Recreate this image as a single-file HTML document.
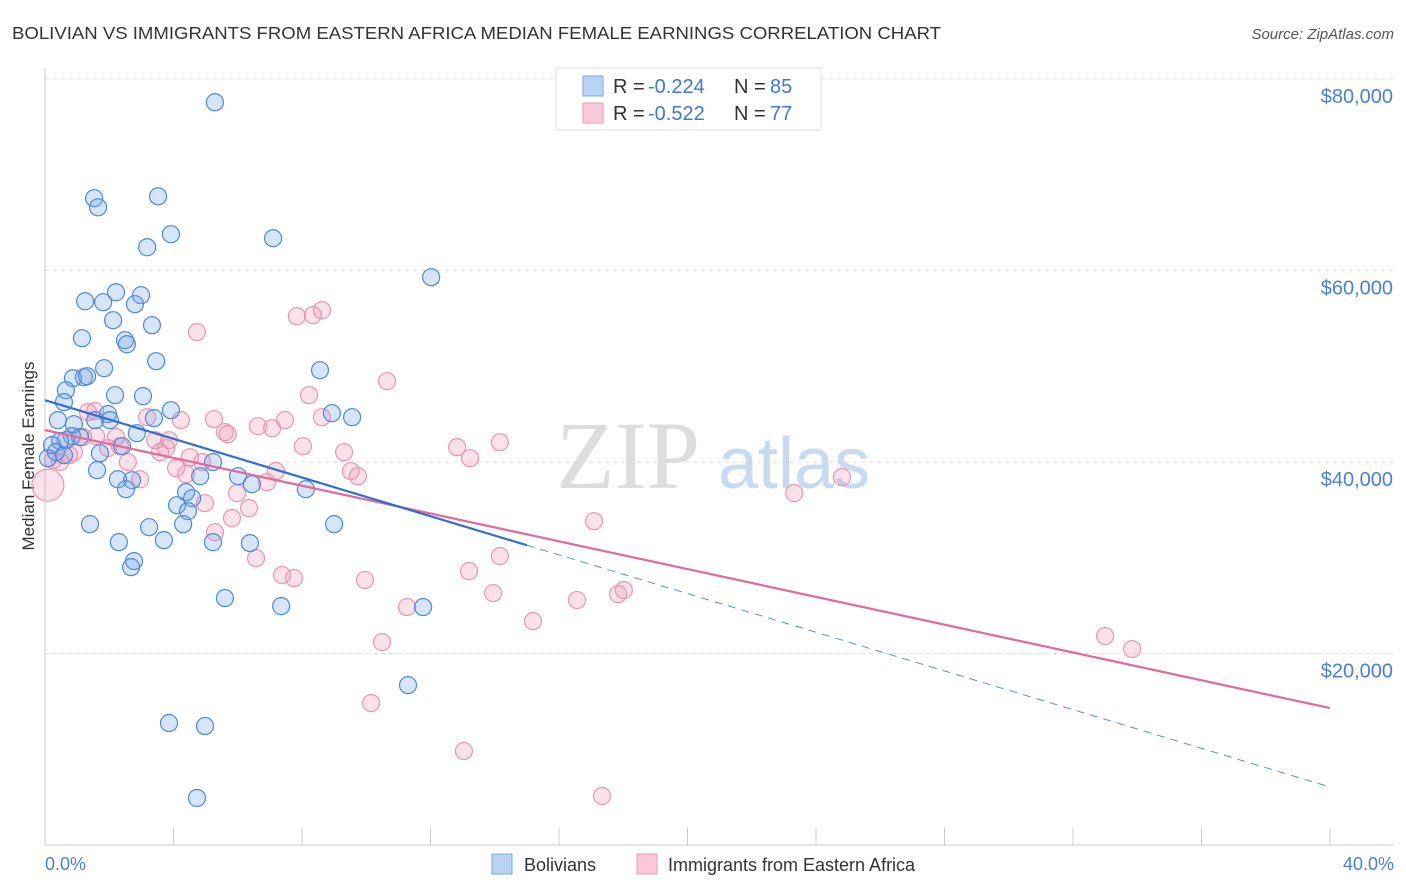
<!DOCTYPE html>
<html><head><meta charset="utf-8">
<style>
body{margin:0;background:#fff;font-family:"Liberation Sans",sans-serif;}
svg{display:block}
</style></head>
<body>
<svg id="chart" width="1406" height="892">
<text x="12" y="39" font-size="17.5" fill="#333" textLength="929" lengthAdjust="spacingAndGlyphs">BOLIVIAN VS IMMIGRANTS FROM EASTERN AFRICA MEDIAN FEMALE EARNINGS CORRELATION CHART</text>
<text x="1394" y="39" font-size="15" fill="#555" font-style="italic" text-anchor="end">Source: ZipAtlas.com</text>
<g id="grid"></g>
<text x="700" y="488" font-size="96" fill="#ddd" font-family="Liberation Serif,serif" text-anchor="end">ZIP</text>
<text x="718" y="488" font-size="72" fill="#c8daf0" text-anchor="start">atlas</text>
<line x1="45" y1="68" x2="45" y2="845" stroke="#ccc"/>
<line x1="45" y1="845" x2="1394" y2="845" stroke="#ccc"/>
<text transform="translate(34,456) rotate(-90)" font-size="17" fill="#333" text-anchor="middle">Median Female Earnings</text>
<text x="45" y="870" font-size="18" fill="#4a7fd4">0.0%</text>
<text x="1394" y="870" font-size="18" fill="#4a7fd4" text-anchor="end">40.0%</text>
<g id="ticks"></g>
<g id="pink"></g>
<g id="blue"></g>
<g id="trends"></g>
<g>
<rect x="556" y="68" width="265" height="62" fill="#fff" stroke="#ddd"/>
<rect x="583" y="76" width="20" height="20" fill="#b9d3f5" stroke="#7aa6e6"/>
<rect x="583" y="103" width="20" height="20" fill="#f9c9d8" stroke="#ec9ab5"/>
<text x="613" y="93" font-size="20" fill="#333">R =</text>
<text x="648" y="93" font-size="20" fill="#3f78d4">-0.224</text>
<text x="734" y="93" font-size="20" fill="#333">N =</text>
<text x="770" y="93" font-size="20" fill="#3f78d4">85</text>
<text x="613" y="120" font-size="20" fill="#333">R =</text>
<text x="648" y="120" font-size="20" fill="#3f78d4">-0.522</text>
<text x="734" y="120" font-size="20" fill="#333">N =</text>
<text x="770" y="120" font-size="20" fill="#3f78d4">77</text>
</g>
<g>
<rect x="492" y="854" width="20" height="20" fill="#b9d3f5" stroke="#7aa6e6"/>
<text x="524" y="871" font-size="18" fill="#333">Bolivians</text>
<rect x="637" y="854" width="20" height="20" fill="#f9c9d8" stroke="#ec9ab5"/>
<text x="668" y="871" font-size="18" fill="#333">Immigrants from Eastern Africa</text>
</g>
</svg>
<script>
const yTicks=[20000,40000,60000,80000];
const yTickLabels=["$20,000","$40,000","$60,000","$80,000"];
const xTicks=[0,4,8,12,16,20,24,28,32,36,40];
const blueX=[5.29,3.52,1.53,1.65,3.92,3.18,7.10,12.02,1.25,1.81,2.21,2.99,2.80,2.12,3.33,1.15,2.49,2.55,3.46,1.84,8.56,0.87,1.21,1.31,0.65,2.18,3.05,0.59,3.92,8.93,9.56,1.96,2.02,3.39,0.40,1.56,0.90,2.86,0.84,1.09,0.65,0.47,0.22,2.40,0.34,0.59,0.09,1.71,5.23,1.62,6.01,4.83,2.71,2.27,6.44,2.52,8.12,4.39,4.58,4.11,4.45,1.40,3.24,4.30,9.00,2.30,3.70,5.23,6.38,2.77,2.68,5.60,7.35,11.77,11.30,3.86,4.98,4.73];
const blueY=[77570,67750,67550,66600,63790,62430,63370,59300,56790,56690,57730,57420,56480,54810,54290,52930,52720,52300,50530,49800,49590,48750,48860,48960,47500,46980,46880,46250,45410,45100,44680,45000,44370,44580,44370,44370,43950,43010,42700,42600,42280,42180,41760,41650,41030,40710,40400,40920,39990,39150,38520,38520,38100,38200,37680,37160,37160,36850,36220,35490,34870,33510,33190,33510,33510,31630,31840,31630,31530,29650,29020,25790,24950,24850,16700,12740,12420,4910];
const pinkX=[4.73,7.84,8.34,8.62,10.65,8.22,1.56,1.34,3.18,4.23,5.26,8.62,7.47,6.63,7.07,5.60,5.69,1.59,2.21,3.43,3.86,14.16,8.03,12.83,1.96,9.31,3.77,3.58,0.90,0.75,13.23,4.51,4.89,2.58,4.08,9.52,7.19,9.74,4.39,24.81,2.96,6.91,23.32,5.98,4.98,6.35,5.82,17.09,5.29,6.57,14.16,13.20,7.38,7.75,9.96,18.02,17.84,13.95,16.56,11.27,15.19,10.49,33.00,33.84,10.15,13.04,17.34,0.47,0.25,1.18,2.33];
const pinkY=[53560,55230,55330,55850,48440,46980,45310,45200,44680,44370,44470,44680,44370,43740,43530,43120,42910,42700,42600,42280,42280,42070,41650,41550,41450,41030,41450,41030,41030,40710,40400,40500,39990,39990,39360,39050,39050,38520,38730,38420,38200,37890,36750,36750,35700,35180,34140,33820,32670,29960,30170,28600,28190,27870,27670,26620,26200,26310,25580,24850,23380,21190,21820,20460,14820,9810,5120,40000,40190,42600,41650];
const bigPinkX=[0.09], bigPinkY=[37580];
const blueTrend=[46460,6055], blueSolidEnd=15.0;
const pinkTrend=[43330,14300];
const NS="http://www.w3.org/2000/svg";
const sx=v=>45+v/40*1285, sy=v=>845-v/20000*191.5;
function mk(t,a,p){const e=document.createElementNS(NS,t);for(const k in a)e.setAttribute(k,a[k]);p.appendChild(e);return e;}
const grid=document.getElementById('grid');
yTicks.forEach((v,i)=>{
 const l=mk('line',{x1:45,x2:1394,y1:sy(v),y2:sy(v),stroke:'#ddd','stroke-dasharray':'4,4'},grid);
 
 
 const t=mk('text',{x:1393,y:sy(v)+24,'font-size':20,fill:'#4a7fd4','text-anchor':'end'},grid);
 t.textContent=yTickLabels[i];
 
 
});
const tk=document.getElementById('ticks');
xTicks.forEach(v=>{
 const l=mk('line',{x1:sx(v),x2:sx(v),y1:828,y2:845,stroke:'#ccc'},tk);
 
 
});
const pg=document.getElementById('pink');
pinkX.forEach((x,i)=>{
 const c=mk('circle',{cx:sx(x),cy:sy(pinkY[i]),r:8.5,fill:'rgba(240,150,180,0.28)',stroke:'#ea94b2','stroke-width':1.2},pg);
 
 
});
bigPinkX.forEach((x,i)=>{
 const c=mk('circle',{cx:sx(x),cy:sy(bigPinkY[i]),r:16,fill:'rgba(240,150,180,0.28)',stroke:'#ea94b2','stroke-width':1.2},pg);
 
 
});
const bg=document.getElementById('blue');
blueX.forEach((x,i)=>{
 const c=mk('circle',{cx:sx(x),cy:sy(blueY[i]),r:8.5,fill:'rgba(110,160,230,0.28)',stroke:'#4f88d8','stroke-width':1.2},bg);
 
 
});
const tg=document.getElementById('trends');
const bAt=x=>blueTrend[0]+(blueTrend[1]-blueTrend[0])*x/40;
const pAt=x=>pinkTrend[0]+(pinkTrend[1]-pinkTrend[0])*x/40;
let l=mk('line',{x1:sx(0),y1:sy(pAt(0)),x2:sx(40),y2:sy(pAt(40)),stroke:'#e4689a','stroke-width':2.2},tg);


l=mk('line',{x1:sx(0),y1:sy(bAt(0)),x2:sx(blueSolidEnd),y2:sy(bAt(blueSolidEnd)),stroke:'#2f6fd6','stroke-width':2.2},tg);


l=mk('line',{x1:sx(blueSolidEnd),y1:sy(bAt(blueSolidEnd)),x2:sx(40),y2:sy(bAt(40)),stroke:'#5b8fd9','stroke-width':1,'stroke-dasharray':'8,6'},tg);


</script>
</body></html>
